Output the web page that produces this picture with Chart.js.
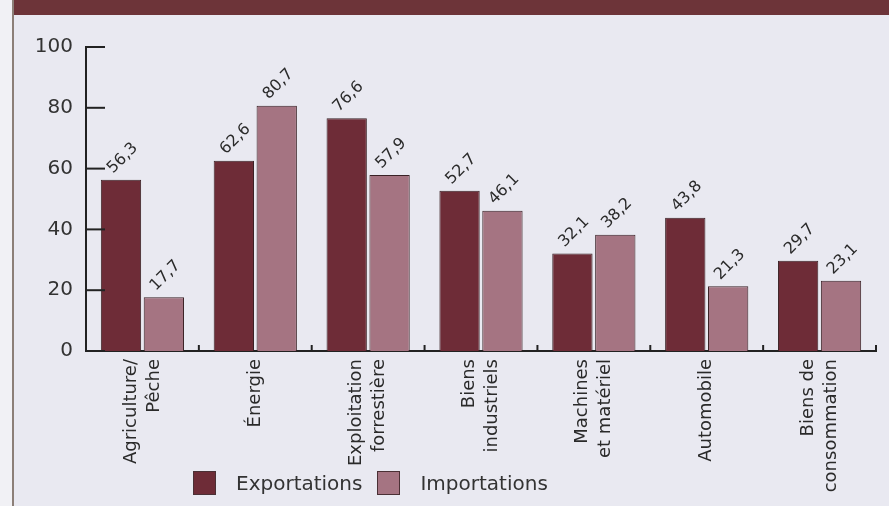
<!DOCTYPE html>
<html lang="fr">
<head>
<meta charset="utf-8">
<title>Exportations et importations par secteur</title>
<script src="https://cdn.jsdelivr.net/npm/chart.js@4.4.1/dist/chart.umd.min.js"></script>
<style>
    html, body { margin: 0; padding: 0; }
    body {
        width: 889px;
        height: 506px;
        position: relative;
        overflow: hidden;
        background: #e9e9f1;
        font-family: "DejaVu Sans", sans-serif;
    }
    #marge {
        position: absolute; left: 0; top: 0; width: 12px; height: 506px;
        background: #f1f1f5; border-right: 2px solid #8c7f78;
    }
    #bandeau {
        position: absolute; left: 14px; top: 0; width: 875px; height: 15px;
        background: #6d3439;
    }
    #graphique { position: absolute; left: 0; top: 0; }
    #legende {
        position: absolute; left: 193px; top: 471px;
        display: flex; align-items: center;
        font-size: 20px; color: #333;
    }
    #legende .carre {
        width: 21px; height: 22px; border: 1px solid #4a3035;
        display: inline-block; margin-right: 20px;
    }
    #legende .item { display: flex; align-items: center; margin-right: 15px; }
</style>
</head>
<body>
<div id="marge"></div>
<div id="bandeau"></div>
<canvas id="graphique" width="889" height="506"></canvas>
<div id="legende"></div>

<script>
// Données (en %)
const secteurs = [
    ["Agriculture/", "Pêche"],
    ["Énergie"],
    ["Exploitation", "forrestière"],
    ["Biens", "industriels"],
    ["Machines", "et matériel"],
    ["Automobile"],
    ["Biens de", "consommation"]
];
const exportations = [56.3, 62.6, 76.6, 52.7, 32.1, 43.8, 29.7];
const importations = [17.7, 80.7, 57.9, 46.1, 38.2, 21.3, 23.1];
const graduations = [0, 20, 40, 60, 80, 100];

const couleurExport = "#6e2c37";
const couleurImport = "#a57482";
const couleurTrait = "#222";

Chart.defaults.font.family = "'DejaVu Sans', sans-serif";
Chart.defaults.color = "#2a2a2a";

// Format français : virgule décimale
function virgule(v) {
    return v.toFixed(1).replace(".", ",");
}

// Petits traits des axes (vers l'intérieur), noms des secteurs et valeurs
const decorations = {
    id: "decorations",
    afterDatasetsDraw(chart) {
        const ctx = chart.ctx;
        const x = chart.scales.x;
        const y = chart.scales.y;

        ctx.save();
        ctx.strokeStyle = couleurTrait;
        ctx.lineWidth = 2;

        // graduations de l'axe vertical
        graduations.forEach(v => {
            const py = y.getPixelForValue(v);
            ctx.beginPath();
            ctx.moveTo(x.left, py);
            ctx.lineTo(x.left + 19, py);
            ctx.stroke();
        });

        // séparateurs entre catégories sur l'axe horizontal
        const largeur = (x.right - x.left) / secteurs.length;
        for (let i = 1; i <= secteurs.length; i++) {
            const px = x.left + i * largeur;
            ctx.beginPath();
            ctx.moveTo(px, y.bottom);
            ctx.lineTo(px, y.bottom - 6);
            ctx.stroke();
        }

        // noms des secteurs, verticaux et centrés sous chaque groupe
        ctx.fillStyle = "#2a2a2a";
        ctx.font = "18px 'DejaVu Sans'";
        ctx.textAlign = "right";
        ctx.textBaseline = "middle";
        const interligne = 23;
        secteurs.forEach((lignes, i) => {
            ctx.save();
            ctx.translate(x.getPixelForValue(i), y.bottom + 8);
            ctx.rotate(-Math.PI / 2);
            lignes.forEach((txt, j) => {
                ctx.fillText(txt, 0, (j - (lignes.length - 1) / 2) * interligne);
            });
            ctx.restore();
        });

        // valeurs inclinées au-dessus des barres
        ctx.font = "16px 'DejaVu Sans'";
        ctx.textAlign = "left";
        ctx.textBaseline = "alphabetic";
        chart.data.datasets.forEach((ds, di) => {
            const meta = chart.getDatasetMeta(di);
            meta.data.forEach((bar, i) => {
                ctx.save();
                ctx.translate(bar.x - 8, bar.y - 6);
                ctx.rotate(-Math.PI / 4);
                ctx.fillText(virgule(ds.data[i]), 0, 0);
                ctx.restore();
            });
        });
        ctx.restore();
    }
};

const ctx = document.getElementById("graphique").getContext("2d");
const monGraphique = new Chart(ctx, {
    type: "bar",
    data: {
        labels: secteurs,
        datasets: [
            {
                label: "Exportations",
                data: exportations,
                backgroundColor: couleurExport,
                borderColor: "#3a2226",
                borderWidth: 1,
                categoryPercentage: 0.76,
                barPercentage: 0.94
            },
            {
                label: "Importations",
                data: importations,
                backgroundColor: couleurImport,
                borderColor: "#3a2226",
                borderWidth: 1,
                categoryPercentage: 0.76,
                barPercentage: 0.94
            }
        ]
    },
    options: {
        responsive: false,
        animation: false,
        layout: {
            padding: { top: 47, right: 13, left: 0, bottom: 0 }
        },
        scales: {
            x: {
                grid: { display: false, drawTicks: false },
                border: { display: true, color: couleurTrait, width: 2 },
                ticks: { display: false },
                afterFit: scale => { scale.height = 155; }
            },
            y: {
                min: 0,
                max: 100,
                grid: { display: false, drawTicks: false },
                border: { display: true, color: couleurTrait, width: 2 },
                ticks: {
                    stepSize: 20,
                    padding: 13,
                    font: { size: 20 },
                    color: "#333"
                },
                afterFit: scale => { scale.width = 86; }
            }
        },
        plugins: {
            legend: { display: false },
            tooltip: { enabled: false }
        }
    },
    plugins: [decorations]
});

// Légende en HTML, sous le graphique
const legende = document.getElementById("legende");
legende.innerHTML = monGraphique.data.datasets.map(ds => `
    <span class="item"><span class="carre" style="background:${ds.backgroundColor}"></span>${ds.label}</span>
`).join("");
</script>
</body>
</html>
